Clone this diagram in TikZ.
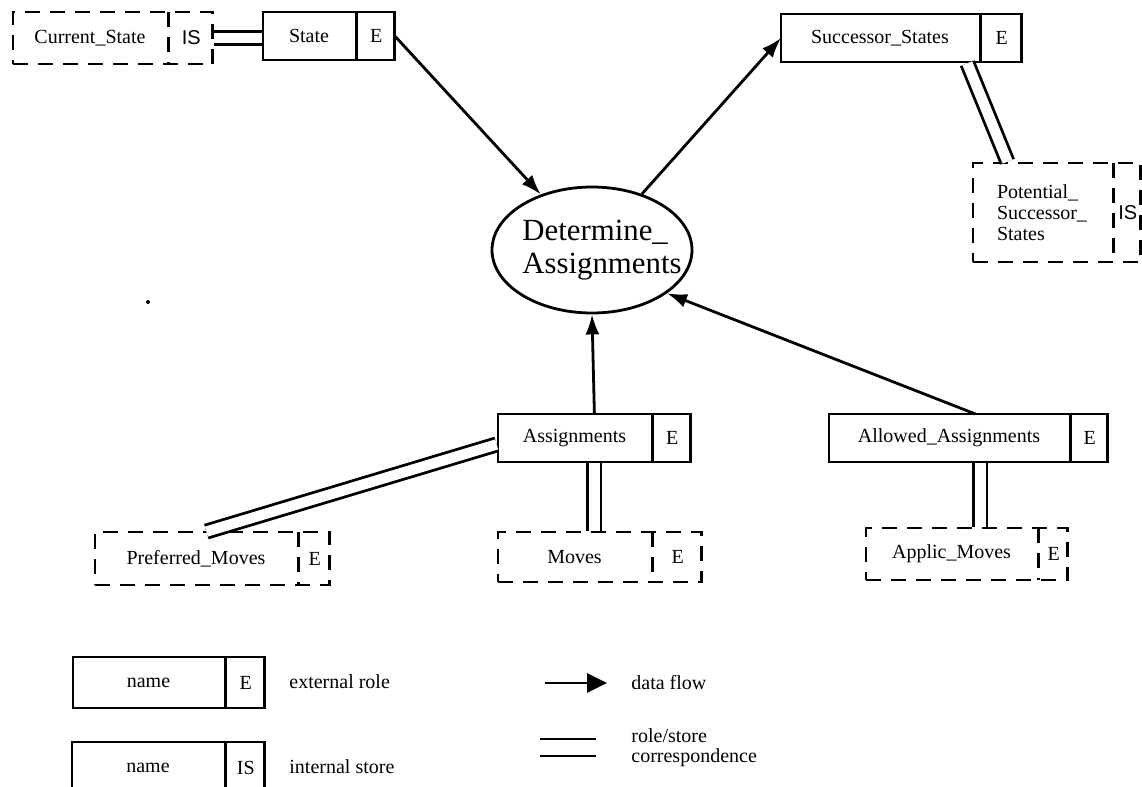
\documentclass[tikz,border=0pt]{standalone}
\usepackage{fontspec}
\setmainfont{Liberation Serif}
\setsansfont{Liberation Sans}
\usetikzlibrary{shapes,arrows.meta,positioning}
\newlength{\px}
\setlength{\px}{0.5pt}
\newcommand{\lw}{1.4pt}
\newcommand{\gap}{5.2pt}
\newcommand{\cell}[3]{\parbox[c][#2\px][c]{#1\px}{\centering #3}}

\tikzset{
  role/.style={rectangle split, rectangle split horizontal, rectangle split parts=2,
    draw, line width=\lw, inner sep=0pt, outer sep=0pt, anchor=north west,
    font=\fontsize{10}{11}\selectfont},
  store/.style={role, dash pattern=on 7.5pt off 5pt},
  flow/.style={line width=\lw, -{Latex[length=10pt,width=7pt]}},
  corr/.style={double, double distance=\gap, line width=\lw, shorten >=0.7pt, shorten <=0.7pt},
  keytext/.style={anchor=west, inner sep=0pt, align=left, font=\fontsize{10}{10}\selectfont}
}

\begin{document}
\begin{tikzpicture}[x=0.5pt,y=-0.5pt]
    \clip (0,0) rectangle (1142,787);
    %\draw[help lines] (0,0) grid[step=50] (1142,787);

    % roles and stores
    \node[store] (cur) at (13,12) {\cell{154}{52}{Current\_State}\nodepart{two}\cell{43}{52}{\sffamily IS}};
    \node[role] (state) at (263,12) {\cell{92}{48}{State}\nodepart{two}\cell{37}{48}{E}};
    \node[role] (succ) at (781,14) {\cell{198}{48}{Successor\_States}\nodepart{two}\cell{40}{48}{E}};
    \node[store] (pot) at (973,163) {\parbox[c][99\px][c]{139\px}{\fontsize{10}{10.5}\selectfont\leftskip=24\px
        Potential\_\\Successor\_\\States}\nodepart{two}\cell{26}{99}{\sffamily IS}};

    \node[ellipse, draw, line width=\lw, minimum width=200\px, minimum height=126\px,
        inner xsep=-20pt, inner ysep=0pt, align=left, font=\fontsize{15.4}{16.5}\selectfont]
        (det) at (592,250) {\hspace*{20\px}Determine\_\\\hspace*{20\px}Assignments};

    \node[role] (assign) at (498,414) {\cell{153}{48}{Assignments}\nodepart{two}\cell{37}{48}{E}};
    \node[role] (allowed) at (829,414) {\cell{240}{48}{Allowed\_Assignments}\nodepart{two}\cell{36}{48}{E}};
    \node[store] (pref) at (95,532) {\cell{202}{53}{Preferred\_Moves}\nodepart{two}\cell{30}{53}{E}};
    \node[store] (moves) at (498,532) {\cell{153}{50}{Moves}\nodepart{two}\cell{48}{50}{E}};
    \node[store] (applic) at (866,528) {\cell{171}{52}{Applic\_Moves}\nodepart{two}\cell{28}{52}{E}};

    \fill (148,302) circle (2);

    % data flows
    \draw[flow] (state.east) -- (det);
    \draw[flow] (det) -- (succ.west);
    \draw[flow] (assign.north) -- (det.south);
    \draw[flow] ([xshift=3.5pt]allowed.north) -- (det.-30);

    % role/store correspondences
    \draw[corr] (cur.east) -- (cur.east -| state.west);
    \draw[corr] ([xshift=-27.5pt]succ.south east) -- ([xshift=17.5pt]pot.north west);
    \draw[corr] ([xshift=55pt]pref.north west) -- ([yshift=-3pt]assign.west);
    \draw[corr] (assign.south) -- (assign.south |- moves.north);
    \draw[corr] ([xshift=6pt]allowed.south) -- ([xshift=6pt]allowed.south |- applic.north);

    % legend
    \node[role] (keyE) at (73,657) {\cell{151}{51}{name}\nodepart{two}\cell{38}{51}{E}};
    \node[role] (keyIS) at (72,742) {\cell{152}{51}{name}\nodepart{two}\cell{38}{51}{IS}};
    \node[keytext] (keyEtxt) at (289,682) {external role};
    \node[keytext] (keyIStxt) at (289,767) {internal store};

    \coordinate (flowa) at (545,683);
    \coordinate (flowb) at (607,683);
    \draw[line width=\lw, -{Triangle[length=10pt,width=9.5pt]}] (flowa) -- (flowb);
    \node[keytext] (flowtxt) at (631,683) {data flow};

    \coordinate (corra) at (540,747.5);
    \coordinate (corrb) at (596,747.5);
    \draw[double, double distance=7.1pt, line width=\lw] (corra) -- (corrb);
    \node[keytext] (corrtxt) at (631,748) {role/store\\correspondence};
\end{tikzpicture}
\end{document}
